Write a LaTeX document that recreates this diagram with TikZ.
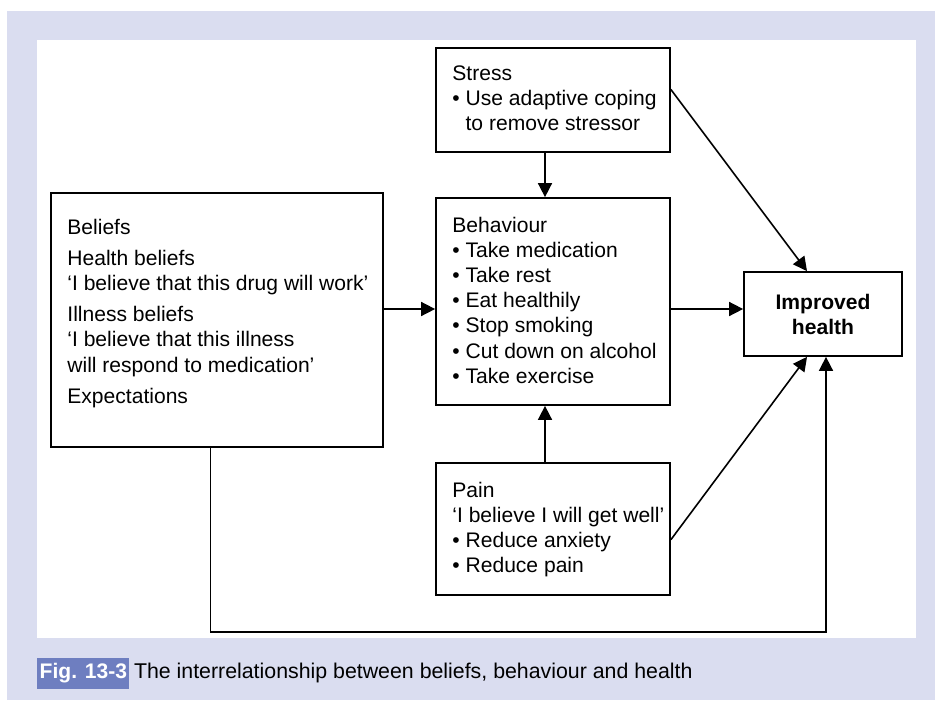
\documentclass[tikz,border=0pt]{standalone}
\usepackage{fontspec}
\setmainfont{Liberation Sans}
\usetikzlibrary{arrows.meta,fit,calc,positioning}
\definecolor{panel}{RGB}{218,221,240}
\definecolor{figblue}{RGB}{110,126,192}
\newcommand{\bul}{\textbullet\ }
\newcommand{\ind}{\hphantom{\textbullet\ }}

\begin{document}
\begin{tikzpicture}[x=0.75pt,y=-0.75pt,
	box/.style={draw,line width=1.3pt,inner sep=0pt},
	txt/.style={anchor=north west,align=left,inner sep=0pt,font=\fontsize{15.8}{18.8}\selectfont},
	arr/.style={line width=1.2pt,-{Triangle[length=10.5pt,width=10.5pt]}}]
	\useasboundingbox (0,0) rectangle (935,700);
	\fill[panel] (7,11) rectangle (935,700);
	\fill[white] (37,40) rectangle (916,638);
	% boxes
	\node[box,fit={(436,48) (670,152)}] (stress) {};
	\node[box,fit={(436,198) (670,405)}] (behav) {};
	\node[box,fit={(51,193) (383,447)}] (beliefs) {};
	\node[box,fit={(436,463) (670,595)}] (pain) {};
	\node[box,fit={(744,272) (902,356)}] (health) {};
	% texts
	\node[txt] (stresstxt) at ([shift={(17,18)}]stress.north west)
		{Stress\\ \bul Use adaptive coping\\ \ind to remove stressor};
	\node[txt] (behavtxt) at ([shift={(17,20)}]behav.north west)
		{Behaviour\\ \bul Take medication\\ \bul Take rest\\ \bul Eat healthily\\
		\bul Stop smoking\\ \bul Cut down on alcohol\\ \bul Take exercise};
	\node[txt] (beliefstxt) at ([shift={(17,27)}]beliefs.north west)
		{Beliefs\\[4.5pt] Health beliefs\\ `I believe that this drug will work'\\[4.5pt]
		Illness beliefs\\ `I believe that this illness\\ will respond to medication'\\[4.5pt]
		Expectations};
	\node[txt] (paintxt) at ([shift={(17,20)}]pain.north west)
		{Pain\\ `I believe I will get well'\\ \bul Reduce anxiety\\ \bul Reduce pain};
	\node[txt,anchor=center,align=center,font=\fontsize{15.8}{18.8}\selectfont\bfseries] (healthtxt) at (health.center)
		{Improved\\ health};
	% connectors
	\coordinate (mid) at (0,309);
	\coordinate (axis) at (545,0);
	\draw[arr] (axis |- stress.south) -- (axis |- behav.north);
	\draw[arr] (axis |- pain.north) -- (axis |- behav.south);
	\draw[arr] (beliefs.east |- mid) -- (behav.west |- mid);
	\draw[arr] (behav.east |- mid) -- (health.west |- mid);
	\draw[arr] ($(stress.north east)!0.4!(stress.south east)$) -- ($(health.north west)!0.4!(health.north east)$);
	\draw[arr] ($(pain.north east)!0.58!(pain.south east)$) -- ($(health.south west)!0.4!(health.south east)$);
	\coordinate (loop) at (826,632);
	\draw[arr] ($(beliefs.south west)!0.48!(beliefs.south east)$) |- (loop) -- (loop |- health.south);
	% caption
	\node[fill=figblue,text=white,inner xsep=1.8pt,inner ysep=4pt,anchor=west,
		font=\fontsize{15.8}{18.8}\selectfont\bfseries] (fig) at (37,673.5) {Fig. 13-3};
	\node[anchor=base west,inner sep=0pt,font=\fontsize{16}{18.8}\selectfont] (caption)
		at ([xshift=3pt]fig.base east) {The interrelationship between beliefs, behaviour and health};
\end{tikzpicture}
\end{document}
